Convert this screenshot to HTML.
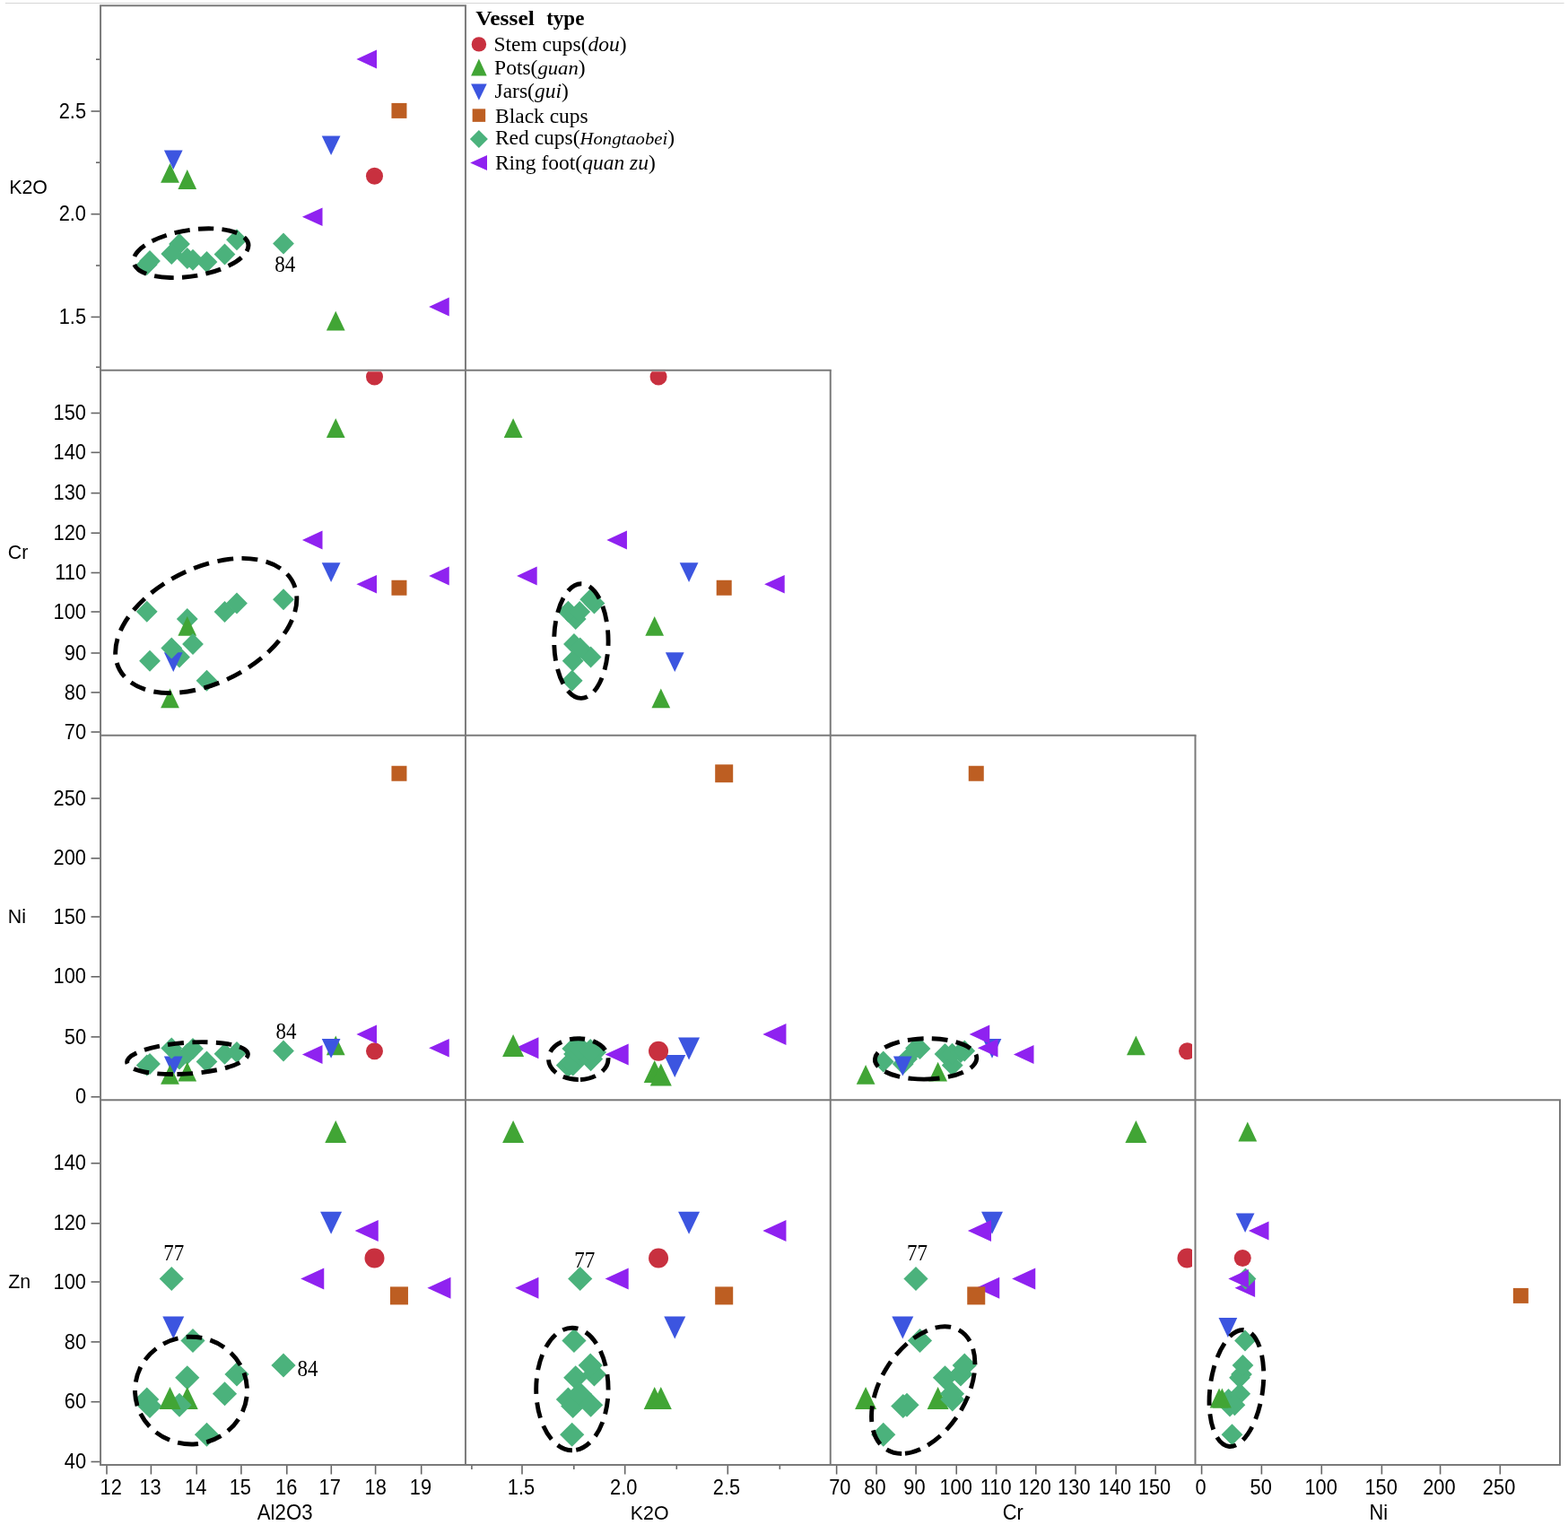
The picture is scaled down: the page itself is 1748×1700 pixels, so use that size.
<!DOCTYPE html>
<html lang="en"><head><meta charset="utf-8"><title>Scatterplot matrix - Vessel type</title>
<style>
html,body{margin:0;padding:0;background:#fff;}
body{width:1748px;height:1700px;overflow:hidden;}
svg{display:block;position:absolute;left:0;top:0;}
.ax{font-family:"Liberation Sans",sans-serif;font-size:23px;fill:#000;}
.lg{font-family:"Liberation Serif",serif;font-size:22.5px;fill:#000;}
.an{font-family:"Liberation Serif",serif;font-size:25.4px;fill:#000;}
</style></head><body>
<svg width="1748" height="1700" viewBox="0 0 1748 1700" role="img" aria-label="Scatterplot matrix of Al2O3, K2O, Cr, Ni and Zn by vessel type">
<rect x="0" y="0" width="1748" height="1700" fill="#fff"/>
<line x1="5.9" y1="3.5" x2="1743.6" y2="3.5" stroke="#d6d6d6" stroke-width="1.2"/>
<defs>
<clipPath id="cp00"><rect x="113.05" y="7.74" width="402.4" height="404.11"/></clipPath>
<clipPath id="cp10"><rect x="113.05" y="414.35" width="402.4" height="404.3"/></clipPath>
<clipPath id="cp11"><rect x="519.95" y="414.35" width="402.31" height="404.3"/></clipPath>
<clipPath id="cp20"><rect x="113.05" y="821.15" width="402.4" height="404.05"/></clipPath>
<clipPath id="cp21"><rect x="519.95" y="821.15" width="402.31" height="404.05"/></clipPath>
<clipPath id="cp22"><rect x="926.76" y="821.15" width="402.24" height="404.05"/></clipPath>
<clipPath id="cp30"><rect x="113.05" y="1227.7" width="402.4" height="404.25"/></clipPath>
<clipPath id="cp31"><rect x="519.95" y="1227.7" width="402.31" height="404.25"/></clipPath>
<clipPath id="cp32"><rect x="926.76" y="1227.7" width="402.24" height="404.25"/></clipPath>
<clipPath id="cp33"><rect x="1333.5" y="1227.7" width="402" height="404.25"/></clipPath>
</defs>
<g clip-path="url(#cp00)">
<polygon points="374.25,346.73 384.62,368.48 363.88,368.48" fill="#41a535"/>
<polygon points="358.73,151.38 379.48,151.38 369.1,173.12" fill="#3c55e0"/>
<circle cx="417.5" cy="196.25" r="9.5" fill="#c8303f"/>
<polygon points="208.75,276.1 220.65,288 208.75,299.9 196.85,288" fill="#4bb27c"/>
<polygon points="208.75,189.12 219.12,210.88 198.38,210.88" fill="#41a535"/>
<polygon points="163.75,283.1 175.65,295 163.75,306.9 151.85,295" fill="#4bb27c"/>
<polygon points="167,279.1 178.9,291 167,302.9 155.1,291" fill="#4bb27c"/>
<polygon points="215,277.85 226.9,289.75 215,301.65 203.1,289.75" fill="#4bb27c"/>
<polygon points="230.5,280.1 242.4,292 230.5,303.9 218.6,292" fill="#4bb27c"/>
<polygon points="250.5,271.6 262.4,283.5 250.5,295.4 238.6,283.5" fill="#4bb27c"/>
<polygon points="264,255.35 275.9,267.25 264,279.15 252.1,267.25" fill="#4bb27c"/>
<polygon points="200,260.1 211.9,272 200,283.9 188.1,272" fill="#4bb27c"/>
<polygon points="182.88,167.38 203.62,167.38 193.25,189.12" fill="#3c55e0"/>
<polygon points="191.25,271.1 203.15,283 191.25,294.9 179.35,283" fill="#4bb27c"/>
<polygon points="316,259.6 327.9,271.5 316,283.4 304.1,271.5" fill="#4bb27c"/>
<polygon points="189.5,182.03 199.88,203.78 179.12,203.78" fill="#41a535"/>
<polygon points="397.4,66 420,55.62 420,76.38" fill="#8f22f0"/>
<polygon points="336.9,241.75 359.5,231.38 359.5,252.12" fill="#8f22f0"/>
<polygon points="478.15,342 500.75,331.62 500.75,352.38" fill="#8f22f0"/>
<rect x="436.45" y="114.9" width="17" height="17" fill="#bd5e22"/>
<path d="M189.45 309.57A64.7 25.8 -9 0 1 236.35 254.83A64.7 25.8 -9 0 1 189.45 309.57Z" fill="none" stroke="#000" stroke-width="4.9" stroke-dasharray="17.34 9.26"/>
</g>
<g clip-path="url(#cp10)">
<polygon points="374.25,466.23 384.62,487.98 363.88,487.98" fill="#41a535"/>
<polygon points="358.73,627.23 379.48,627.23 369.1,648.98" fill="#3c55e0"/>
<circle cx="417.5" cy="420" r="9.5" fill="#c8303f"/>
<polygon points="208.75,678.1 220.65,690 208.75,701.9 196.85,690" fill="#4bb27c"/>
<polygon points="208.75,687.02 219.12,708.77 198.38,708.77" fill="#41a535"/>
<polygon points="163.75,669.85 175.65,681.75 163.75,693.65 151.85,681.75" fill="#4bb27c"/>
<polygon points="167,724.85 178.9,736.75 167,748.65 155.1,736.75" fill="#4bb27c"/>
<polygon points="215,706.1 226.9,718 215,729.9 203.1,718" fill="#4bb27c"/>
<polygon points="230.5,746.85 242.4,758.75 230.5,770.65 218.6,758.75" fill="#4bb27c"/>
<polygon points="250.5,670.1 262.4,682 250.5,693.9 238.6,682" fill="#4bb27c"/>
<polygon points="264,660.6 275.9,672.5 264,684.4 252.1,672.5" fill="#4bb27c"/>
<polygon points="200,720.6 211.9,732.5 200,744.4 188.1,732.5" fill="#4bb27c"/>
<polygon points="182.88,727.23 203.62,727.23 193.25,748.98" fill="#3c55e0"/>
<polygon points="191.25,710.6 203.15,722.5 191.25,734.4 179.35,722.5" fill="#4bb27c"/>
<polygon points="316,656.35 327.9,668.25 316,680.15 304.1,668.25" fill="#4bb27c"/>
<polygon points="189.5,767.52 199.88,789.27 179.12,789.27" fill="#41a535"/>
<polygon points="397.4,651.25 420,640.88 420,661.62" fill="#8f22f0"/>
<polygon points="336.9,602 359.5,591.62 359.5,612.38" fill="#8f22f0"/>
<polygon points="478.15,642 500.75,631.62 500.75,652.38" fill="#8f22f0"/>
<rect x="436.45" y="646.75" width="17" height="17" fill="#bd5e22"/>
<path d="M189.16 772.65A109.1 64.5 -26 0 1 270.34 622.35A109.1 64.5 -26 0 1 189.16 772.65Z" fill="none" stroke="#000" stroke-width="4.9" stroke-dasharray="17.86 9.54"/>
</g>
<g clip-path="url(#cp11)">
<polygon points="572.1,466.23 582.48,487.98 561.73,487.98" fill="#41a535"/>
<polygon points="757.68,627.23 778.43,627.23 768.05,648.98" fill="#3c55e0"/>
<circle cx="734.05" cy="420" r="9.5" fill="#c8303f"/>
<polygon points="641.7,678.1 653.6,690 641.7,701.9 629.8,690" fill="#4bb27c"/>
<polygon points="729.7,687.02 740.08,708.77 719.33,708.77" fill="#41a535"/>
<polygon points="633.4,669.85 645.3,681.75 633.4,693.65 621.5,681.75" fill="#4bb27c"/>
<polygon points="638.7,724.85 650.6,736.75 638.7,748.65 626.8,736.75" fill="#4bb27c"/>
<polygon points="639.95,706.1 651.85,718 639.95,729.9 628.05,718" fill="#4bb27c"/>
<polygon points="637.7,746.85 649.6,758.75 637.7,770.65 625.8,758.75" fill="#4bb27c"/>
<polygon points="646.2,670.1 658.1,682 646.2,693.9 634.3,682" fill="#4bb27c"/>
<polygon points="662.45,660.6 674.35,672.5 662.45,684.4 650.55,672.5" fill="#4bb27c"/>
<polygon points="658.6,720.6 670.5,732.5 658.6,744.4 646.7,732.5" fill="#4bb27c"/>
<polygon points="741.88,727.23 762.62,727.23 752.25,748.98" fill="#3c55e0"/>
<polygon points="646.7,710.6 658.6,722.5 646.7,734.4 634.8,722.5" fill="#4bb27c"/>
<polygon points="658.2,656.35 670.1,668.25 658.2,680.15 646.3,668.25" fill="#4bb27c"/>
<polygon points="736.8,767.52 747.18,789.27 726.43,789.27" fill="#41a535"/>
<polygon points="852.1,651.25 874.7,640.88 874.7,661.62" fill="#8f22f0"/>
<polygon points="676.35,602 698.95,591.62 698.95,612.38" fill="#8f22f0"/>
<polygon points="576.1,642 598.7,631.62 598.7,652.38" fill="#8f22f0"/>
<rect x="798.7" y="646.75" width="17" height="17" fill="#bd5e22"/>
<path d="M647.9 778.4A30.2 63.8 0 0 1 647.9 650.8A30.2 63.8 0 0 1 647.9 778.4Z" fill="none" stroke="#000" stroke-width="4.9" stroke-dasharray="17.6 9.4"/>
</g>
<g clip-path="url(#cp20)">
<polygon points="374.25,1154.53 384.62,1176.28 363.88,1176.28" fill="#41a535"/>
<polygon points="358.73,1158.03 379.48,1158.03 369.1,1179.78" fill="#3c55e0"/>
<circle cx="417.5" cy="1171.75" r="9.5" fill="#c8303f"/>
<polygon points="208.75,1163.1 220.65,1175 208.75,1186.9 196.85,1175" fill="#4bb27c"/>
<polygon points="208.75,1183.72 219.12,1205.47 198.38,1205.47" fill="#41a535"/>
<polygon points="163.75,1175.6 175.65,1187.5 163.75,1199.4 151.85,1187.5" fill="#4bb27c"/>
<polygon points="167,1174.1 178.9,1186 167,1197.9 155.1,1186" fill="#4bb27c"/>
<polygon points="215,1157.1 226.9,1169 215,1180.9 203.1,1169" fill="#4bb27c"/>
<polygon points="230.5,1171.6 242.4,1183.5 230.5,1195.4 218.6,1183.5" fill="#4bb27c"/>
<polygon points="250.5,1162.85 262.4,1174.75 250.5,1186.65 238.6,1174.75" fill="#4bb27c"/>
<polygon points="264,1161.1 275.9,1173 264,1184.9 252.1,1173" fill="#4bb27c"/>
<polygon points="200,1168.7 211.9,1180.6 200,1192.5 188.1,1180.6" fill="#4bb27c"/>
<polygon points="182.88,1177.62 203.62,1177.62 193.25,1199.38" fill="#3c55e0"/>
<polygon points="191.25,1156.6 203.15,1168.5 191.25,1180.4 179.35,1168.5" fill="#4bb27c"/>
<polygon points="316,1159.6 327.9,1171.5 316,1183.4 304.1,1171.5" fill="#4bb27c"/>
<polygon points="189.5,1187.03 199.88,1208.78 179.12,1208.78" fill="#41a535"/>
<polygon points="397.4,1153 420,1142.62 420,1163.38" fill="#8f22f0"/>
<polygon points="336.9,1175.5 359.5,1165.12 359.5,1185.88" fill="#8f22f0"/>
<polygon points="478.15,1168.25 500.75,1157.88 500.75,1178.62" fill="#8f22f0"/>
<rect x="436.45" y="853.75" width="17" height="17" fill="#bd5e22"/>
<path d="M192.93 1197.56A67.5 17.4 -3.9 0 1 225.07 1161.64A67.5 17.4 -3.9 0 1 192.93 1197.56Z" fill="none" stroke="#000" stroke-width="4.9" stroke-dasharray="17.46 9.32"/>
</g>
<g clip-path="url(#cp21)">
<polygon points="756.05,1156.4 780.05,1156.4 768.05,1181.4" fill="#3c55e0"/>
<polygon points="641.7,1161.4 655.3,1175 641.7,1188.6 628.1,1175" fill="#4bb27c"/>
<polygon points="729.7,1182.1 741.7,1207.1 717.7,1207.1" fill="#41a535"/>
<polygon points="633.4,1173.9 647,1187.5 633.4,1201.1 619.8,1187.5" fill="#4bb27c"/>
<polygon points="638.7,1172.4 652.3,1186 638.7,1199.6 625.1,1186" fill="#4bb27c"/>
<polygon points="639.95,1155.4 653.55,1169 639.95,1182.6 626.35,1169" fill="#4bb27c"/>
<polygon points="637.7,1169.9 651.3,1183.5 637.7,1197.1 624.1,1183.5" fill="#4bb27c"/>
<polygon points="646.2,1161.15 659.8,1174.75 646.2,1188.35 632.6,1174.75" fill="#4bb27c"/>
<polygon points="662.45,1159.4 676.05,1173 662.45,1186.6 648.85,1173" fill="#4bb27c"/>
<polygon points="658.6,1167 672.2,1180.6 658.6,1194.2 645,1180.6" fill="#4bb27c"/>
<polygon points="740.25,1176 764.25,1176 752.25,1201" fill="#3c55e0"/>
<polygon points="646.7,1154.9 660.3,1168.5 646.7,1182.1 633.1,1168.5" fill="#4bb27c"/>
<polygon points="658.2,1157.9 671.8,1171.5 658.2,1185.1 644.6,1171.5" fill="#4bb27c"/>
<polygon points="736.8,1185.4 748.8,1210.4 724.8,1210.4" fill="#41a535"/>
<polygon points="850.35,1153 876.45,1141 876.45,1165" fill="#8f22f0"/>
<polygon points="674.6,1175.5 700.7,1163.5 700.7,1187.5" fill="#8f22f0"/>
<polygon points="574.35,1168.25 600.45,1156.25 600.45,1180.25" fill="#8f22f0"/>
<rect x="797.2" y="852.25" width="20" height="20" fill="#bd5e22"/>
<polygon points="572.1,1152.9 584.1,1177.9 560.1,1177.9" fill="#41a535"/>
<circle cx="734.05" cy="1171.75" r="11" fill="#c8303f"/>
<path d="M644.75 1203.5A33.3 22.9 0 0 1 644.75 1157.7A33.3 22.9 0 0 1 644.75 1203.5Z" fill="none" stroke="#000" stroke-width="4.9" stroke-dasharray="17.16 9.17"/>
</g>
<g clip-path="url(#cp22)">
<polygon points="1266.4,1154.53 1276.78,1176.28 1256.03,1176.28" fill="#41a535"/>
<polygon points="1095.62,1158.03 1116.38,1158.03 1106,1179.78" fill="#3c55e0"/>
<circle cx="1323.5" cy="1171.75" r="9.5" fill="#c8303f"/>
<polygon points="1053.5,1163.1 1065.4,1175 1053.5,1186.9 1041.6,1175" fill="#4bb27c"/>
<polygon points="1045.6,1183.72 1055.97,1205.47 1035.22,1205.47" fill="#41a535"/>
<polygon points="1061.75,1175.6 1073.65,1187.5 1061.75,1199.4 1049.85,1187.5" fill="#4bb27c"/>
<polygon points="1006.75,1174.1 1018.65,1186 1006.75,1197.9 994.85,1186" fill="#4bb27c"/>
<polygon points="1025.5,1157.1 1037.4,1169 1025.5,1180.9 1013.6,1169" fill="#4bb27c"/>
<polygon points="984.75,1171.6 996.65,1183.5 984.75,1195.4 972.85,1183.5" fill="#4bb27c"/>
<polygon points="1061.5,1162.85 1073.4,1174.75 1061.5,1186.65 1049.6,1174.75" fill="#4bb27c"/>
<polygon points="1071,1161.1 1082.9,1173 1071,1184.9 1059.1,1173" fill="#4bb27c"/>
<polygon points="1011,1168.7 1022.9,1180.6 1011,1192.5 999.1,1180.6" fill="#4bb27c"/>
<polygon points="995.92,1177.62 1016.67,1177.62 1006.3,1199.38" fill="#3c55e0"/>
<polygon points="1021,1156.6 1032.9,1168.5 1021,1180.4 1009.1,1168.5" fill="#4bb27c"/>
<polygon points="1075.25,1159.6 1087.15,1171.5 1075.25,1183.4 1063.35,1171.5" fill="#4bb27c"/>
<polygon points="965.1,1187.03 975.48,1208.78 954.73,1208.78" fill="#41a535"/>
<polygon points="1080.65,1153 1103.25,1142.62 1103.25,1163.38" fill="#8f22f0"/>
<polygon points="1129.9,1175.5 1152.5,1165.12 1152.5,1185.88" fill="#8f22f0"/>
<polygon points="1089.9,1168.25 1112.5,1157.88 1112.5,1178.62" fill="#8f22f0"/>
<rect x="1079.75" y="853.75" width="17" height="17" fill="#bd5e22"/>
<path d="M1030.03 1203.12A56.7 22.7 -1 0 1 1034.17 1157.68A56.7 22.7 -1 0 1 1030.03 1203.12Z" fill="none" stroke="#000" stroke-width="4.9" stroke-dasharray="17.6 9.4"/>
</g>
<g clip-path="url(#cp30)">
<polygon points="374.25,1249 386.25,1274 362.25,1274" fill="#41a535"/>
<polygon points="357.1,1350.75 381.1,1350.75 369.1,1375.75" fill="#3c55e0"/>
<circle cx="417.5" cy="1402.5" r="11" fill="#c8303f"/>
<polygon points="208.75,1522.15 222.35,1535.75 208.75,1549.35 195.15,1535.75" fill="#4bb27c"/>
<polygon points="208.75,1546 220.75,1571 196.75,1571" fill="#41a535"/>
<polygon points="163.75,1546.4 177.35,1560 163.75,1573.6 150.15,1560" fill="#4bb27c"/>
<polygon points="167,1553.9 180.6,1567.5 167,1581.1 153.4,1567.5" fill="#4bb27c"/>
<polygon points="215,1480.9 228.6,1494.5 215,1508.1 201.4,1494.5" fill="#4bb27c"/>
<polygon points="230.5,1585.65 244.1,1599.25 230.5,1612.85 216.9,1599.25" fill="#4bb27c"/>
<polygon points="250.5,1540.15 264.1,1553.75 250.5,1567.35 236.9,1553.75" fill="#4bb27c"/>
<polygon points="264,1518.4 277.6,1532 264,1545.6 250.4,1532" fill="#4bb27c"/>
<polygon points="200,1552.65 213.6,1566.25 200,1579.85 186.4,1566.25" fill="#4bb27c"/>
<polygon points="181.25,1467.5 205.25,1467.5 193.25,1492.5" fill="#3c55e0"/>
<polygon points="191.25,1411.9 204.85,1425.5 191.25,1439.1 177.65,1425.5" fill="#4bb27c"/>
<polygon points="316,1508.4 329.6,1522 316,1535.6 302.4,1522" fill="#4bb27c"/>
<polygon points="189.5,1546 201.5,1571 177.5,1571" fill="#41a535"/>
<polygon points="395.65,1372 421.75,1360 421.75,1384" fill="#8f22f0"/>
<polygon points="335.15,1425.5 361.25,1413.5 361.25,1437.5" fill="#8f22f0"/>
<polygon points="476.4,1435.75 502.5,1423.75 502.5,1447.75" fill="#8f22f0"/>
<rect x="434.95" y="1434.4" width="20" height="20" fill="#bd5e22"/>
<path d="M215.52 1609.95A63.05 59.9 0 0 1 210.48 1490.25A63.05 59.9 0 0 1 215.52 1609.95Z" fill="none" stroke="#000" stroke-width="4.9" stroke-dasharray="17.6 9.4"/>
</g>
<g clip-path="url(#cp31)">
<polygon points="572.1,1249 584.1,1274 560.1,1274" fill="#41a535"/>
<polygon points="756.05,1350.75 780.05,1350.75 768.05,1375.75" fill="#3c55e0"/>
<circle cx="734.05" cy="1402.5" r="11" fill="#c8303f"/>
<polygon points="641.7,1522.15 655.3,1535.75 641.7,1549.35 628.1,1535.75" fill="#4bb27c"/>
<polygon points="729.7,1546 741.7,1571 717.7,1571" fill="#41a535"/>
<polygon points="633.4,1546.4 647,1560 633.4,1573.6 619.8,1560" fill="#4bb27c"/>
<polygon points="638.7,1553.9 652.3,1567.5 638.7,1581.1 625.1,1567.5" fill="#4bb27c"/>
<polygon points="639.95,1480.9 653.55,1494.5 639.95,1508.1 626.35,1494.5" fill="#4bb27c"/>
<polygon points="637.7,1585.65 651.3,1599.25 637.7,1612.85 624.1,1599.25" fill="#4bb27c"/>
<polygon points="646.2,1540.15 659.8,1553.75 646.2,1567.35 632.6,1553.75" fill="#4bb27c"/>
<polygon points="662.45,1518.4 676.05,1532 662.45,1545.6 648.85,1532" fill="#4bb27c"/>
<polygon points="658.6,1552.65 672.2,1566.25 658.6,1579.85 645,1566.25" fill="#4bb27c"/>
<polygon points="740.25,1467.5 764.25,1467.5 752.25,1492.5" fill="#3c55e0"/>
<polygon points="646.7,1411.9 660.3,1425.5 646.7,1439.1 633.1,1425.5" fill="#4bb27c"/>
<polygon points="658.2,1508.4 671.8,1522 658.2,1535.6 644.6,1522" fill="#4bb27c"/>
<polygon points="736.8,1546 748.8,1571 724.8,1571" fill="#41a535"/>
<polygon points="850.35,1372 876.45,1360 876.45,1384" fill="#8f22f0"/>
<polygon points="674.6,1425.5 700.7,1413.5 700.7,1437.5" fill="#8f22f0"/>
<polygon points="574.35,1435.75 600.45,1423.75 600.45,1447.75" fill="#8f22f0"/>
<rect x="797.2" y="1434.4" width="20" height="20" fill="#bd5e22"/>
<path d="M637.9 1616.8A40.2 68.3 0 0 1 637.9 1480.2A40.2 68.3 0 0 1 637.9 1616.8Z" fill="none" stroke="#000" stroke-width="4.9" stroke-dasharray="17.6 9.4"/>
</g>
<g clip-path="url(#cp32)">
<polygon points="1266.4,1249 1278.4,1274 1254.4,1274" fill="#41a535"/>
<polygon points="1094,1350.75 1118,1350.75 1106,1375.75" fill="#3c55e0"/>
<circle cx="1323.5" cy="1402.5" r="11" fill="#c8303f"/>
<polygon points="1053.5,1522.15 1067.1,1535.75 1053.5,1549.35 1039.9,1535.75" fill="#4bb27c"/>
<polygon points="1045.6,1546 1057.6,1571 1033.6,1571" fill="#41a535"/>
<polygon points="1061.75,1546.4 1075.35,1560 1061.75,1573.6 1048.15,1560" fill="#4bb27c"/>
<polygon points="1006.75,1553.9 1020.35,1567.5 1006.75,1581.1 993.15,1567.5" fill="#4bb27c"/>
<polygon points="1025.5,1480.9 1039.1,1494.5 1025.5,1508.1 1011.9,1494.5" fill="#4bb27c"/>
<polygon points="984.75,1585.65 998.35,1599.25 984.75,1612.85 971.15,1599.25" fill="#4bb27c"/>
<polygon points="1061.5,1540.15 1075.1,1553.75 1061.5,1567.35 1047.9,1553.75" fill="#4bb27c"/>
<polygon points="1071,1518.4 1084.6,1532 1071,1545.6 1057.4,1532" fill="#4bb27c"/>
<polygon points="1011,1552.65 1024.6,1566.25 1011,1579.85 997.4,1566.25" fill="#4bb27c"/>
<polygon points="994.3,1467.5 1018.3,1467.5 1006.3,1492.5" fill="#3c55e0"/>
<polygon points="1021,1411.9 1034.6,1425.5 1021,1439.1 1007.4,1425.5" fill="#4bb27c"/>
<polygon points="1075.25,1508.4 1088.85,1522 1075.25,1535.6 1061.65,1522" fill="#4bb27c"/>
<polygon points="965.1,1546 977.1,1571 953.1,1571" fill="#41a535"/>
<polygon points="1078.9,1372 1105,1360 1105,1384" fill="#8f22f0"/>
<polygon points="1128.15,1425.5 1154.25,1413.5 1154.25,1437.5" fill="#8f22f0"/>
<polygon points="1088.15,1435.75 1114.25,1423.75 1114.25,1447.75" fill="#8f22f0"/>
<rect x="1078.25" y="1434.4" width="20" height="20" fill="#bd5e22"/>
<path d="M1005.21 1620.45A78 47.9 -58 0 1 1053.29 1478.75A78 47.9 -58 0 1 1005.21 1620.45Z" fill="none" stroke="#000" stroke-width="4.9" stroke-dasharray="17.6 9.4"/>
</g>
<g clip-path="url(#cp33)">
<polygon points="1390.8,1250.62 1401.17,1272.38 1380.42,1272.38" fill="#41a535"/>
<polygon points="1377.72,1352.38 1398.47,1352.38 1388.1,1374.12" fill="#3c55e0"/>
<circle cx="1385.25" cy="1402.5" r="9.5" fill="#c8303f"/>
<polygon points="1382,1523.85 1393.9,1535.75 1382,1547.65 1370.1,1535.75" fill="#4bb27c"/>
<polygon points="1369.5,1548.1 1381.4,1560 1369.5,1571.9 1357.6,1560" fill="#4bb27c"/>
<polygon points="1371,1555.6 1382.9,1567.5 1371,1579.4 1359.1,1567.5" fill="#4bb27c"/>
<polygon points="1388,1482.6 1399.9,1494.5 1388,1506.4 1376.1,1494.5" fill="#4bb27c"/>
<polygon points="1373.5,1587.35 1385.4,1599.25 1373.5,1611.15 1361.6,1599.25" fill="#4bb27c"/>
<polygon points="1382.25,1541.85 1394.15,1553.75 1382.25,1565.65 1370.35,1553.75" fill="#4bb27c"/>
<polygon points="1384,1520.1 1395.9,1532 1384,1543.9 1372.1,1532" fill="#4bb27c"/>
<polygon points="1376.4,1554.35 1388.3,1566.25 1376.4,1578.15 1364.5,1566.25" fill="#4bb27c"/>
<polygon points="1358.53,1469.12 1379.28,1469.12 1368.9,1490.88" fill="#3c55e0"/>
<polygon points="1385.5,1510.1 1397.4,1522 1385.5,1533.9 1373.6,1522" fill="#4bb27c"/>
<polygon points="1362.4,1547.62 1372.78,1569.38 1352.03,1569.38" fill="#41a535"/>
<polygon points="1359.1,1547.62 1369.47,1569.38 1348.72,1569.38" fill="#41a535"/>
<polygon points="1391.9,1372 1414.5,1361.62 1414.5,1382.38" fill="#8f22f0"/>
<polygon points="1376.55,1435.75 1399.15,1425.38 1399.15,1446.12" fill="#8f22f0"/>
<polygon points="1388.5,1413.6 1400.4,1425.5 1388.5,1437.4 1376.6,1425.5" fill="#4bb27c"/>
<polygon points="1369.3,1425.5 1391.9,1415.12 1391.9,1435.88" fill="#8f22f0"/>
<rect x="1686.85" y="1435.9" width="17" height="17" fill="#bd5e22"/>
<path d="M1370.42 1612.49A65.5 29.6 -82.3 0 1 1386.38 1482.51A65.5 29.6 -82.3 0 1 1370.42 1612.49Z" fill="none" stroke="#000" stroke-width="4.9" stroke-dasharray="17.78 9.49"/>
</g>
<text class="an" transform="translate(306.2 302.8) scale(0.905 1)" text-anchor="start">84</text>
<text class="an" transform="translate(307.4 1157.8) scale(0.905 1)" text-anchor="start">84</text>
<text class="an" transform="translate(182.2 1405.2) scale(0.905 1)" text-anchor="start">77</text>
<text class="an" transform="translate(331.6 1533.5) scale(0.905 1)" text-anchor="start">84</text>
<text class="an" transform="translate(640.3 1413) scale(0.905 1)" text-anchor="start">77</text>
<text class="an" transform="translate(1011 1405) scale(0.905 1)" text-anchor="start">77</text>
<line x1="111.05" y1="6.24" x2="519.95" y2="6.24" stroke="#7a7a7a" stroke-width="2"/>
<line x1="111.05" y1="412.85" x2="926.76" y2="412.85" stroke="#7a7a7a" stroke-width="2"/>
<line x1="111.05" y1="819.65" x2="1333.5" y2="819.65" stroke="#7a7a7a" stroke-width="2"/>
<line x1="111.05" y1="1226.2" x2="1740" y2="1226.2" stroke="#7a7a7a" stroke-width="2"/>
<line x1="111.05" y1="1632.95" x2="1740" y2="1632.95" stroke="#7a7a7a" stroke-width="2"/>
<line x1="112.05" y1="6.24" x2="112.05" y2="1632.95" stroke="#7a7a7a" stroke-width="2"/>
<line x1="518.95" y1="6.24" x2="518.95" y2="1632.95" stroke="#7a7a7a" stroke-width="2"/>
<line x1="925.76" y1="412.85" x2="925.76" y2="1632.95" stroke="#7a7a7a" stroke-width="2"/>
<line x1="1332.5" y1="819.65" x2="1332.5" y2="1632.95" stroke="#7a7a7a" stroke-width="2"/>
<line x1="1739" y1="1226.2" x2="1739" y2="1632.95" stroke="#7a7a7a" stroke-width="2"/>
<line x1="107" y1="66.2" x2="111.15" y2="66.2" stroke="#666666" stroke-width="1.6"/>
<line x1="101.5" y1="124" x2="111.15" y2="124" stroke="#666666" stroke-width="1.6"/>
<text class="ax" transform="translate(65.7 131.6) scale(0.950 1)" text-anchor="start">2.5</text>
<line x1="107" y1="181.2" x2="111.15" y2="181.2" stroke="#666666" stroke-width="1.6"/>
<line x1="101.5" y1="238.7" x2="111.15" y2="238.7" stroke="#666666" stroke-width="1.6"/>
<text class="ax" transform="translate(65.65 246.3) scale(0.950 1)" text-anchor="start">2.0</text>
<line x1="107" y1="296" x2="111.15" y2="296" stroke="#666666" stroke-width="1.6"/>
<line x1="101.5" y1="353.4" x2="111.15" y2="353.4" stroke="#666666" stroke-width="1.6"/>
<text class="ax" transform="translate(65.7 361) scale(0.950 1)" text-anchor="start">1.5</text>
<line x1="107" y1="409.3" x2="111.15" y2="409.3" stroke="#666666" stroke-width="1.6"/>
<line x1="101.5" y1="460.5" x2="111.15" y2="460.5" stroke="#666666" stroke-width="1.6"/>
<text class="ax" transform="translate(59.58 468.1) scale(0.950 1)" text-anchor="start">150</text>
<line x1="101.5" y1="504.4" x2="111.15" y2="504.4" stroke="#666666" stroke-width="1.6"/>
<text class="ax" transform="translate(59.58 512) scale(0.950 1)" text-anchor="start">140</text>
<line x1="101.5" y1="549.7" x2="111.15" y2="549.7" stroke="#666666" stroke-width="1.6"/>
<text class="ax" transform="translate(59.58 557.3) scale(0.950 1)" text-anchor="start">130</text>
<line x1="101.5" y1="594.2" x2="111.15" y2="594.2" stroke="#666666" stroke-width="1.6"/>
<text class="ax" transform="translate(59.58 601.8) scale(0.950 1)" text-anchor="start">120</text>
<line x1="101.5" y1="638.5" x2="111.15" y2="638.5" stroke="#666666" stroke-width="1.6"/>
<text class="ax" transform="translate(61.22 646.1) scale(0.950 1)" text-anchor="start">110</text>
<line x1="101.5" y1="682" x2="111.15" y2="682" stroke="#666666" stroke-width="1.6"/>
<text class="ax" transform="translate(59.58 689.6) scale(0.950 1)" text-anchor="start">100</text>
<line x1="101.5" y1="728" x2="111.15" y2="728" stroke="#666666" stroke-width="1.6"/>
<text class="ax" transform="translate(71.77 735.6) scale(0.950 1)" text-anchor="start">90</text>
<line x1="101.5" y1="771.9" x2="111.15" y2="771.9" stroke="#666666" stroke-width="1.6"/>
<text class="ax" transform="translate(71.77 779.5) scale(0.950 1)" text-anchor="start">80</text>
<line x1="101.5" y1="816" x2="111.15" y2="816" stroke="#666666" stroke-width="1.6"/>
<text class="ax" transform="translate(71.77 823.6) scale(0.950 1)" text-anchor="start">70</text>
<line x1="101.5" y1="890" x2="111.15" y2="890" stroke="#666666" stroke-width="1.6"/>
<text class="ax" transform="translate(59.58 897.6) scale(0.950 1)" text-anchor="start">250</text>
<line x1="101.5" y1="956.8" x2="111.15" y2="956.8" stroke="#666666" stroke-width="1.6"/>
<text class="ax" transform="translate(59.58 964.4) scale(0.950 1)" text-anchor="start">200</text>
<line x1="101.5" y1="1022" x2="111.15" y2="1022" stroke="#666666" stroke-width="1.6"/>
<text class="ax" transform="translate(59.58 1029.6) scale(0.950 1)" text-anchor="start">150</text>
<line x1="101.5" y1="1088.8" x2="111.15" y2="1088.8" stroke="#666666" stroke-width="1.6"/>
<text class="ax" transform="translate(59.58 1096.4) scale(0.950 1)" text-anchor="start">100</text>
<line x1="101.5" y1="1155.9" x2="111.15" y2="1155.9" stroke="#666666" stroke-width="1.6"/>
<text class="ax" transform="translate(71.77 1163.5) scale(0.950 1)" text-anchor="start">50</text>
<line x1="101.5" y1="1222.76" x2="111.15" y2="1222.76" stroke="#666666" stroke-width="1.6"/>
<text class="ax" transform="translate(83.89 1230.36) scale(0.950 1)" text-anchor="start">0</text>
<line x1="101.5" y1="1296.76" x2="111.15" y2="1296.76" stroke="#666666" stroke-width="1.6"/>
<text class="ax" transform="translate(59.58 1304.36) scale(0.950 1)" text-anchor="start">140</text>
<line x1="101.5" y1="1363.8" x2="111.15" y2="1363.8" stroke="#666666" stroke-width="1.6"/>
<text class="ax" transform="translate(59.58 1371.4) scale(0.950 1)" text-anchor="start">120</text>
<line x1="101.5" y1="1429" x2="111.15" y2="1429" stroke="#666666" stroke-width="1.6"/>
<text class="ax" transform="translate(59.58 1436.6) scale(0.950 1)" text-anchor="start">100</text>
<line x1="101.5" y1="1495.9" x2="111.15" y2="1495.9" stroke="#666666" stroke-width="1.6"/>
<text class="ax" transform="translate(71.77 1503.5) scale(0.950 1)" text-anchor="start">80</text>
<line x1="101.5" y1="1562.7" x2="111.15" y2="1562.7" stroke="#666666" stroke-width="1.6"/>
<text class="ax" transform="translate(71.77 1570.3) scale(0.950 1)" text-anchor="start">60</text>
<line x1="101.5" y1="1629.5" x2="111.15" y2="1629.5" stroke="#666666" stroke-width="1.6"/>
<text class="ax" transform="translate(71.77 1637.1) scale(0.950 1)" text-anchor="start">40</text>
<line x1="119" y1="1633.85" x2="119" y2="1643.5" stroke="#666666" stroke-width="1.6"/>
<text class="ax" transform="translate(111.6 1665.6) scale(0.950 1)" text-anchor="start">12</text>
<line x1="168.4" y1="1633.85" x2="168.4" y2="1643.5" stroke="#666666" stroke-width="1.6"/>
<text class="ax" transform="translate(155.42 1665.6) scale(0.950 1)" text-anchor="start">13</text>
<line x1="219.2" y1="1633.85" x2="219.2" y2="1643.5" stroke="#666666" stroke-width="1.6"/>
<text class="ax" transform="translate(206.1 1665.6) scale(0.950 1)" text-anchor="start">14</text>
<line x1="268.9" y1="1633.85" x2="268.9" y2="1643.5" stroke="#666666" stroke-width="1.6"/>
<text class="ax" transform="translate(255.69 1665.6) scale(0.950 1)" text-anchor="start">15</text>
<line x1="319.8" y1="1633.85" x2="319.8" y2="1643.5" stroke="#666666" stroke-width="1.6"/>
<text class="ax" transform="translate(307.12 1665.6) scale(0.950 1)" text-anchor="start">16</text>
<line x1="369.3" y1="1633.85" x2="369.3" y2="1643.5" stroke="#666666" stroke-width="1.6"/>
<text class="ax" transform="translate(355.5 1665.6) scale(0.950 1)" text-anchor="start">17</text>
<line x1="418.6" y1="1633.85" x2="418.6" y2="1643.5" stroke="#666666" stroke-width="1.6"/>
<text class="ax" transform="translate(406.52 1665.6) scale(0.950 1)" text-anchor="start">18</text>
<line x1="469.7" y1="1633.85" x2="469.7" y2="1643.5" stroke="#666666" stroke-width="1.6"/>
<text class="ax" transform="translate(456.8 1665.6) scale(0.950 1)" text-anchor="start">19</text>
<line x1="525.9" y1="1633.85" x2="525.9" y2="1637.9" stroke="#666666" stroke-width="1.6"/>
<line x1="582" y1="1633.85" x2="582" y2="1643.5" stroke="#666666" stroke-width="1.6"/>
<text class="ax" transform="translate(565.83 1665.6) scale(0.950 1)" text-anchor="start">1.5</text>
<line x1="639.8" y1="1633.85" x2="639.8" y2="1637.9" stroke="#666666" stroke-width="1.6"/>
<line x1="696.7" y1="1633.85" x2="696.7" y2="1643.5" stroke="#666666" stroke-width="1.6"/>
<text class="ax" transform="translate(680.08 1665.6) scale(0.950 1)" text-anchor="start">2.0</text>
<line x1="754.3" y1="1633.85" x2="754.3" y2="1637.9" stroke="#666666" stroke-width="1.6"/>
<line x1="811.3" y1="1633.85" x2="811.3" y2="1643.5" stroke="#666666" stroke-width="1.6"/>
<text class="ax" transform="translate(794.81 1665.6) scale(0.950 1)" text-anchor="start">2.5</text>
<line x1="869.3" y1="1633.85" x2="869.3" y2="1637.9" stroke="#666666" stroke-width="1.6"/>
<line x1="932.65" y1="1633.85" x2="932.65" y2="1643.5" stroke="#666666" stroke-width="1.6"/>
<text class="ax" transform="translate(924.19 1665.6) scale(0.950 1)" text-anchor="start">70</text>
<line x1="977.05" y1="1633.85" x2="977.05" y2="1643.5" stroke="#666666" stroke-width="1.6"/>
<text class="ax" transform="translate(963.32 1665.6) scale(0.950 1)" text-anchor="start">80</text>
<line x1="1021.1" y1="1633.85" x2="1021.1" y2="1643.5" stroke="#666666" stroke-width="1.6"/>
<text class="ax" transform="translate(1007.26 1665.6) scale(0.950 1)" text-anchor="start">90</text>
<line x1="1066.25" y1="1633.85" x2="1066.25" y2="1643.5" stroke="#666666" stroke-width="1.6"/>
<text class="ax" transform="translate(1047.47 1665.6) scale(0.950 1)" text-anchor="start">100</text>
<line x1="1110.6" y1="1633.85" x2="1110.6" y2="1643.5" stroke="#666666" stroke-width="1.6"/>
<text class="ax" transform="translate(1092.79 1665.6) scale(0.950 1)" text-anchor="start">110</text>
<line x1="1154.8" y1="1633.85" x2="1154.8" y2="1643.5" stroke="#666666" stroke-width="1.6"/>
<text class="ax" transform="translate(1135.37 1665.6) scale(0.950 1)" text-anchor="start">120</text>
<line x1="1198.9" y1="1633.85" x2="1198.9" y2="1643.5" stroke="#666666" stroke-width="1.6"/>
<text class="ax" transform="translate(1179.12 1665.6) scale(0.950 1)" text-anchor="start">130</text>
<line x1="1244.1" y1="1633.85" x2="1244.1" y2="1643.5" stroke="#666666" stroke-width="1.6"/>
<text class="ax" transform="translate(1224.77 1665.6) scale(0.950 1)" text-anchor="start">140</text>
<line x1="1288.2" y1="1633.85" x2="1288.2" y2="1643.5" stroke="#666666" stroke-width="1.6"/>
<text class="ax" transform="translate(1268.77 1665.6) scale(0.950 1)" text-anchor="start">150</text>
<line x1="1339.6" y1="1633.85" x2="1339.6" y2="1643.5" stroke="#666666" stroke-width="1.6"/>
<text class="ax" transform="translate(1332.41 1665.6) scale(0.950 1)" text-anchor="start">0</text>
<line x1="1406.4" y1="1633.85" x2="1406.4" y2="1643.5" stroke="#666666" stroke-width="1.6"/>
<text class="ax" transform="translate(1393.6 1665.6) scale(0.950 1)" text-anchor="start">50</text>
<line x1="1473.3" y1="1633.85" x2="1473.3" y2="1643.5" stroke="#666666" stroke-width="1.6"/>
<text class="ax" transform="translate(1454.47 1665.6) scale(0.950 1)" text-anchor="start">100</text>
<line x1="1540.4" y1="1633.85" x2="1540.4" y2="1643.5" stroke="#666666" stroke-width="1.6"/>
<text class="ax" transform="translate(1521.47 1665.6) scale(0.950 1)" text-anchor="start">150</text>
<line x1="1605.6" y1="1633.85" x2="1605.6" y2="1643.5" stroke="#666666" stroke-width="1.6"/>
<text class="ax" transform="translate(1586.15 1665.6) scale(0.950 1)" text-anchor="start">200</text>
<line x1="1672.3" y1="1633.85" x2="1672.3" y2="1643.5" stroke="#666666" stroke-width="1.6"/>
<text class="ax" transform="translate(1652.85 1665.6) scale(0.950 1)" text-anchor="start">250</text>
<text class="ax" transform="translate(286.82 1693.5) scale(0.965 1)" text-anchor="start">Al2O3</text>
<text class="ax" transform="translate(702.74 1693.5) scale(0.930 1)" text-anchor="start">K2O</text>
<text class="ax" transform="translate(1117.69 1693.5) scale(0.950 1)" text-anchor="start">Cr</text>
<text class="ax" transform="translate(1526.41 1693.5) scale(0.950 1)" text-anchor="start">Ni</text>
<text class="ax" transform="translate(10.14 215.9) scale(0.930 1)" text-anchor="start">K2O</text>
<text class="ax" transform="translate(8.83 622.6) scale(0.930 1)" text-anchor="start">Cr</text>
<text class="ax" transform="translate(8.84 1029.2) scale(0.930 1)" text-anchor="start">Ni</text>
<text class="ax" transform="translate(9.2 1435.9) scale(0.930 1)" text-anchor="start">Zn</text>
<text class="lg" y="27.5" font-weight="bold" font-size="23.4" xml:space="preserve"><tspan x="530.2" textLength="65.6" lengthAdjust="spacingAndGlyphs">Vessel</tspan>  <tspan x="609.2" textLength="42.2" lengthAdjust="spacingAndGlyphs">type</tspan></text>
<circle cx="533.9" cy="49.4" r="8.2" fill="#c8303f"/>
<polygon points="533.9,65.5 542.7,84.5 525.1,84.5" fill="#41a535"/>
<polygon points="525.1,93.5 542.7,93.5 533.9,111.8" fill="#3c55e0"/>
<rect x="526.65" y="121.35" width="14.5" height="14.5" fill="#bd5e22"/>
<polygon points="533.9,145.1 543.9,155.1 533.9,165.1 523.9,155.1" fill="#4bb27c"/>
<polygon points="524.2,181.5 543,172.95 543,190.05" fill="#8f22f0"/>
<text class="lg" transform="translate(550.4 56.5) scale(1.045 1)" text-anchor="start">Stem cups(<tspan font-style="italic">dou</tspan>)</text>
<text class="lg" transform="translate(551.1 82.6) scale(1.045 1)" text-anchor="start">Pots(<tspan font-style="italic" font-size="21.7">guan</tspan>)</text>
<text class="lg" transform="translate(551.5 109) scale(1.045 1)" text-anchor="start">Jars(<tspan font-style="italic">gui</tspan>)</text>
<text class="lg" transform="translate(552 136.5) scale(1.045 1)" text-anchor="start">Black cups</text>
<text class="lg" transform="translate(551.9 161.4) scale(1.045 1)" text-anchor="start">Red cups(<tspan font-style="italic" font-size="19.8">Hongtaobei</tspan>)</text>
<text class="lg" transform="translate(551.9 188.9) scale(1.045 1)" text-anchor="start">Ring foot(<tspan font-style="italic">quan zu</tspan>)</text>
</svg>
</body></html>
